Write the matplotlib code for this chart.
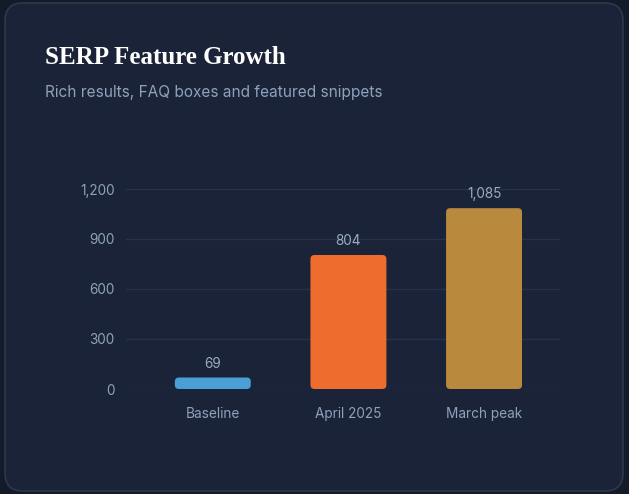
import matplotlib
matplotlib.use('Agg')
import matplotlib.pyplot as plt
from matplotlib.patches import FancyBboxPatch

categories = ['Baseline', 'April 2025', 'March peak']
values = [69, 804, 1085]
bar_colors = ['#4a9fd4', '#ee6c2e', '#b98a3e']
yticks = [0, 300, 600, 900, 1200]

W, H = 629, 494
fig = plt.figure(figsize=(W / 100, H / 100), dpi=100)
fig.patch.set_facecolor('#131a2a')

# card behind everything
card = FancyBboxPatch((5 / W, 3 / H), 618 / W, 488 / H,
                      boxstyle='round,pad=0,rounding_size=%f' % (18 / W),
                      mutation_aspect=W / H, transform=fig.transFigure,
                      facecolor='#1a2337', edgecolor='#2e384b', linewidth=1.2,
                      zorder=-10)
fig.patches.append(card)

fig.text(45 / W, 1 - 58 / H, 'SERP Feature Growth', family='Liberation Serif',
         fontweight='bold', fontsize=18, color='#ffffff', va='center')
fig.text(45 / W, 1 - 92 / H, 'Rich results, FAQ boxes and featured snippets',
         family='Inter', fontsize=11.1, color='#8ea2bc', va='center')

ax = fig.add_axes([126 / W, (H - 389) / H, (560 - 126) / W, 200 / H])
ax.set_facecolor('none')
ax.set_xlim(-0.64, 2.56)
ax.set_ylim(0, 1200)

bw = 0.56
xs = range(len(categories))
bars = ax.bar(xs, values, width=bw, color='none')
for b, c in zip(bars, bar_colors):
    b.set_visible(False)
    p = FancyBboxPatch((b.get_x(), 0), b.get_width(), b.get_height(),
                       boxstyle='round,pad=0,rounding_size=0.03',
                       mutation_aspect=6 * 135.5, facecolor=c, edgecolor='none',
                       zorder=3)
    ax.add_patch(p)

for x, v in zip(xs, values):
    ax.annotate(f'{v:,}', (x, v), xytext=(0, 5), textcoords='offset points',
                ha='center', va='bottom', family='Inter', fontsize=9.8,
                color='#9aabc2')

ax.set_yticks(yticks)
ax.set_yticklabels([f'{t:,}' for t in yticks])
ax.set_xticks(list(xs))
ax.set_xticklabels(categories)
ax.tick_params(axis='y', length=0, pad=8, labelcolor='#8ea2bc', labelsize=9.8)
ax.tick_params(axis='x', length=0, pad=13, labelcolor='#8ea2bc', labelsize=9.8)
for lab in ax.get_xticklabels() + ax.get_yticklabels():
    lab.set_family('Inter')
ax.grid(axis='y', color='#27324a', linewidth=1, zorder=0)
ax.set_axisbelow(True)
for s in ax.spines.values():
    s.set_visible(False)

fig.savefig('out.png', dpi=100, facecolor=fig.get_facecolor())
